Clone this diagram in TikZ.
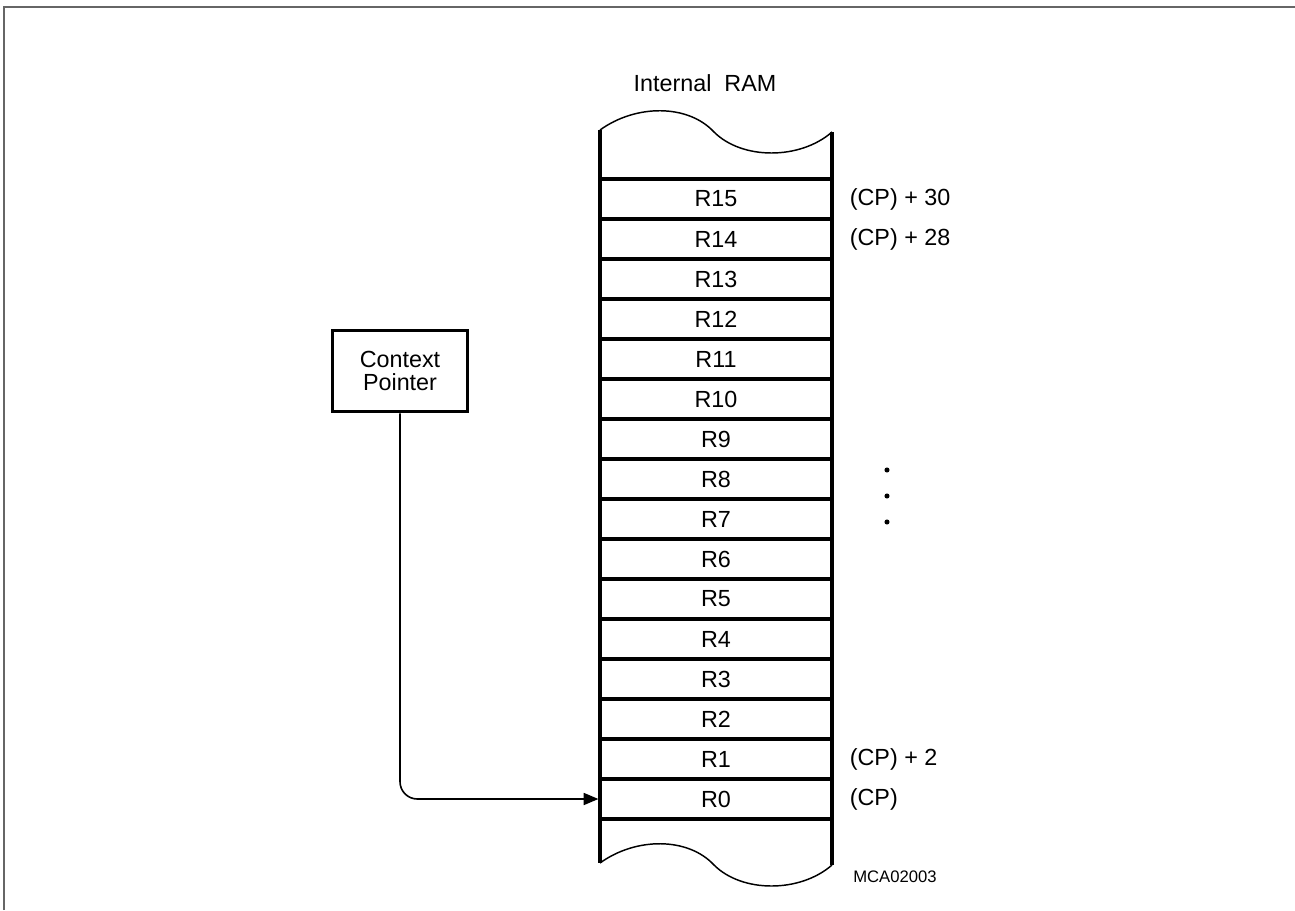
\documentclass[tikz,border=0pt]{standalone}
\usepackage{fontspec}
\setmainfont{Liberation Sans}
\usetikzlibrary{arrows.meta,positioning}

\begin{document}
\begin{tikzpicture}[
  x=0.75pt, y=-0.75pt,
  reg/.style={draw, line width=2.4pt, minimum width=174pt, minimum height=30pt, inner sep=0pt, font=\fontsize{17.5}{20}\selectfont},
  ptr/.style={draw, line width=2.4pt, minimum width=101pt, minimum height=61pt, inner sep=0pt, align=center, font=\fontsize{17.5}{17.5}\selectfont},
  addr/.style={inner sep=0pt, font=\fontsize{17.5}{20}\selectfont},
  wave/.style={line width=1.1pt}
]
  \useasboundingbox (0,0) rectangle (1295,910);
  \draw[line width=1.6pt, black!60] (4,910) -- (4,7) -- (1295,7);

  % register stack
  \foreach \i in {0,...,15}
    \node[reg] (r\i) at (716,{799-40*\i}) {R\i};

  \coordinate (tl) at (600,130);
  \coordinate (tr) at (832,132);
  \coordinate (bl) at (600,863);
  \coordinate (br) at (832,865);
  \draw[line width=2.4pt] (tl) -- (bl);
  \draw[line width=2.4pt] (tr) -- (br);
  \draw[wave] (tl) .. controls (636,104) and (688,104) .. (714,132)
                   .. controls (742,160) and (800,160) .. (tr);
  \draw[wave] (bl) .. controls (636,837) and (688,837) .. (714,865)
                   .. controls (742,893) and (800,893) .. (br);

  \node[addr] (title) at (705,83) {Internal\ \ RAM};

  % pointer
  \node[ptr] (cp) at (400,371) {Context\\Pointer};
  \draw[line width=1.2pt, rounded corners=13pt, -{Triangle[length=11pt,width=9pt]}]
    (cp.south) |- (r0.west);

  % addresses
  \node[addr, right=12pt of r15] (a15) {(CP) + 30};
  \node[addr, right=12pt of r14] (a14) {(CP) + 28};
  \node[addr, right=12pt of r1] (a1) {(CP) + 2};
  \node[addr, right=12pt of r0] (a0) {(CP)};
  \foreach \y in {470,496,522}
    \fill (887,\y) circle[radius=1.9pt];

  \node[inner sep=0pt, anchor=west, font=\fontsize{12.5}{14}\selectfont] (fig) at (853,877) {MCA02003};
\end{tikzpicture}
\end{document}
